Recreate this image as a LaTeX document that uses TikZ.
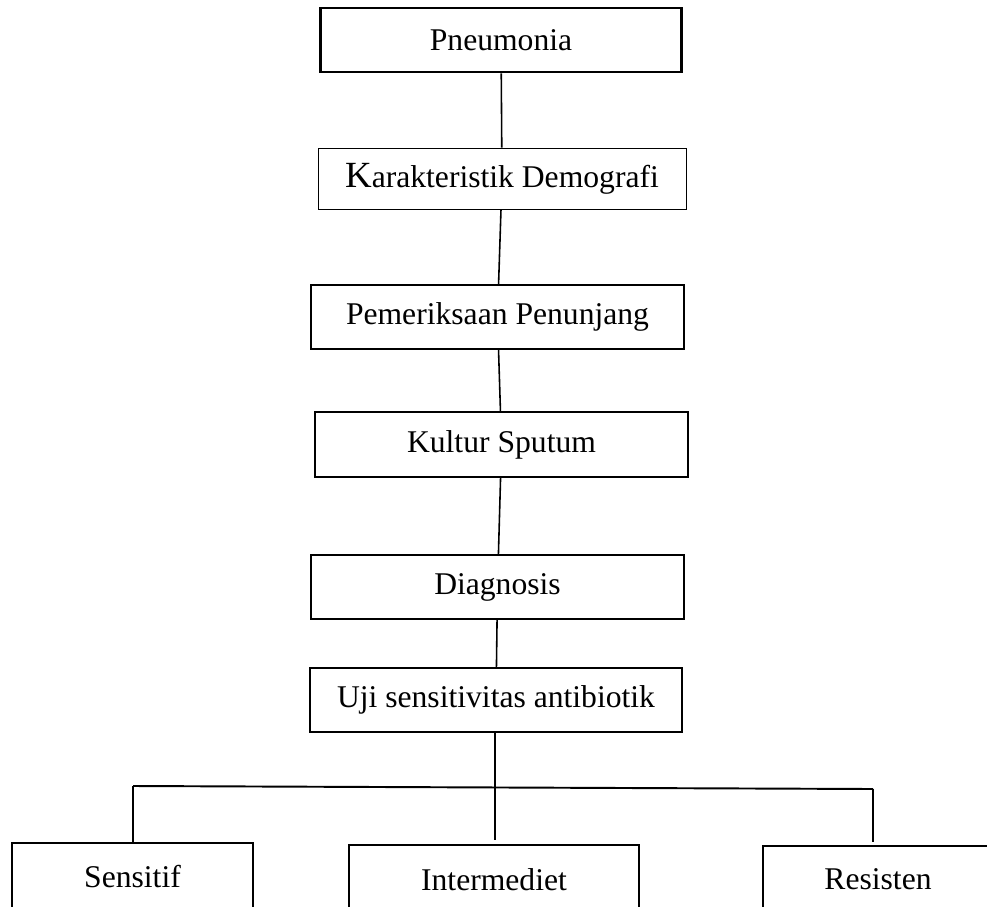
\documentclass[tikz,border=0pt]{standalone}
\usepackage{fontspec}
\setmainfont{Liberation Serif}

\begin{document}
\begin{tikzpicture}[x=0.02cm, y=-0.02cm]
        \tikzset{
            kotak/.style={
                draw,
                line width=#1,
                inner sep=0pt,
                font=\fontsize{18}{22}\selectfont
            },
            garis/.style={
                black,
                line width=0.9pt
            }
        }
        \path[use as bounding box, clip] (0,0) rectangle (987,906);

        \node[kotak=1.7pt, minimum width=7.24cm, minimum height=1.28cm] (pneu) at (501,40) {Pneumonia};
        \node[kotak=0.5pt, minimum width=7.36cm, minimum height=1.22cm] (demo) at (502,178.5) {{\fontsize{21}{24}\selectfont K}arakteristik Demografi};
        \node[kotak=1.1pt, minimum width=7.46cm, minimum height=1.28cm] (penunjang) at (497.5,317) {Pemeriksaan Penunjang};
        \node[kotak=1.1pt, minimum width=7.46cm, minimum height=1.30cm] (kultur) at (501.5,444.5) {Kultur Sputum};
        \node[kotak=1.1pt, minimum width=7.46cm, minimum height=1.28cm] (diag) at (497.5,587) {Diagnosis};
        \node[kotak=1.1pt, minimum width=7.44cm, minimum height=1.28cm] (uji) at (496,700) {Uji sensitivitas antibiotik};

        \node[kotak=1.1pt, minimum width=4.82cm, minimum height=1.36cm] (sensitif) at (132.5,877) {Sensitif};
        \node[kotak=1.1pt, minimum width=5.80cm, minimum height=1.40cm] (inter) at (494,880) {Intermediet};
        \node[kotak=1.1pt, minimum width=4.60cm, minimum height=1.32cm] (resisten) at (878,879) {Resisten};

        \draw[garis] (pneu) -- (demo);
        \draw[garis] (demo) -- (penunjang);
        \draw[garis] (penunjang) -- (kultur);
        \draw[garis] (kultur) -- (diag);
        \draw[garis] (diag) -- (uji);

        % cabang ke hasil uji
        \coordinate (kiri) at (133,786);
        \coordinate (kanan) at (873,789);
        \coordinate (tengah) at (495,840);
        \coordinate (ujungkanan) at (873,842);
        \draw[garis, line width=1.1pt] (kiri) -- (kanan);
        \draw[garis] (uji.south -| tengah) -- (tengah);
        \draw[garis] (kiri) -- (kiri |- sensitif.north);
        \draw[garis] (kanan) -- (ujungkanan);

\end{tikzpicture}
\end{document}
